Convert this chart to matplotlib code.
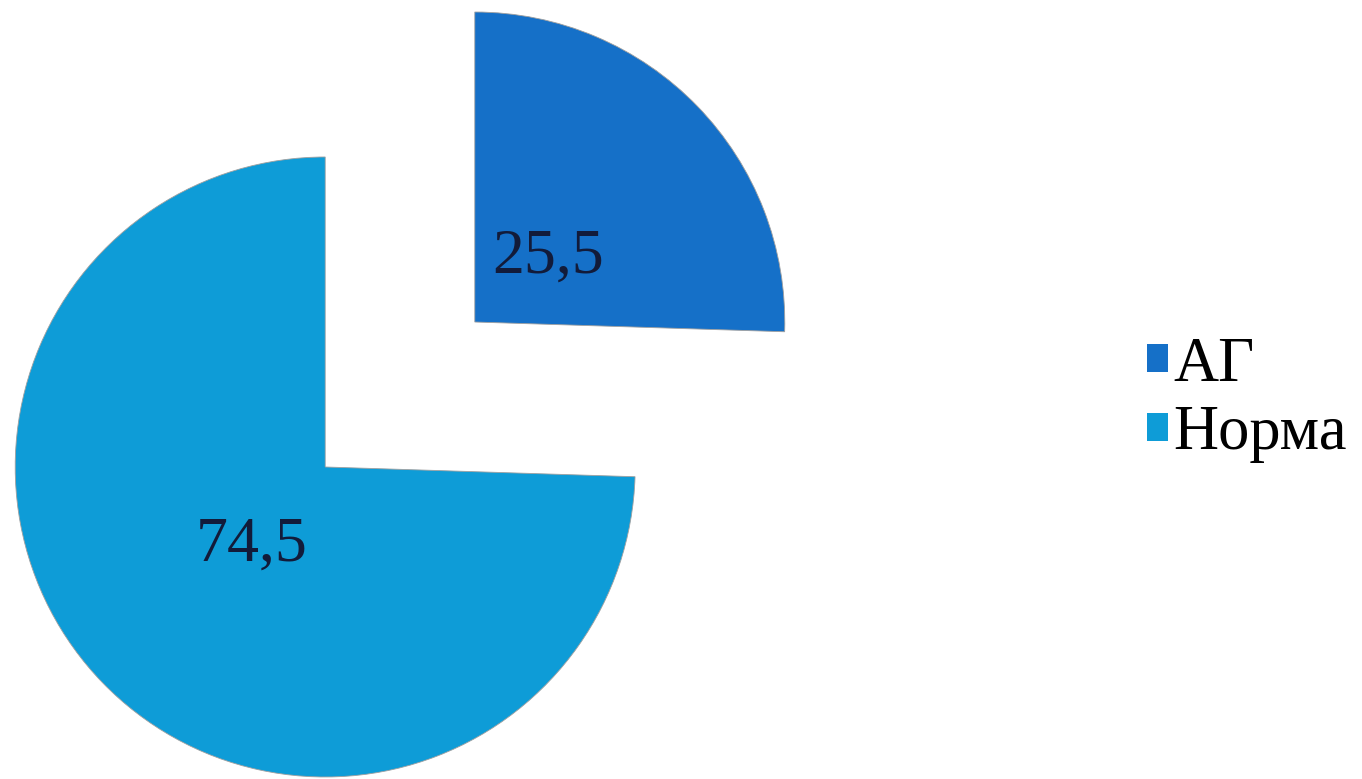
import matplotlib
matplotlib.use("Agg")
import matplotlib.pyplot as plt

categories = ["АГ", "Норма"]
values = [25.5, 74.5]
value_labels = ["25,5", "74,5"]
colors = ["#1570C8", "#0E9CD7"]

plt.rcParams['font.family'] = ['Liberation Serif', 'DejaVu Serif']

fig = plt.figure(figsize=(13.62, 7.79), dpi=100)
ax = fig.add_axes([0, 0, 1, 1])
R = 310.0
cx, cy = 400.0, 779 - 394.5

wedges, texts = ax.pie(values, startangle=90, counterclock=False,
                       colors=colors, explode=[0.336, 0.336], radius=1.0,
                       center=(0, 0), labels=value_labels, labeldistance=0.33,
                       frame=True,
                       wedgeprops=dict(edgecolor='#A0A0A0', linewidth=0.6),
                       textprops=dict(fontsize=46, color='#121B3A',
                                      ha='center', va='center_baseline'))
ax.set_xlim(-cx / R, (1362 - cx) / R)
ax.set_ylim(-cy / R, (779 - cy) / R)
ax.set_aspect('auto')
ax.axis('off')

leg = ax.legend(wedges, categories, loc='center left',
                bbox_to_anchor=(1147 / 1362, 1 - 400 / 779),
                frameon=False, fontsize=45, handlelength=0.33,
                handleheight=0.3, handletextpad=0.09, labelspacing=0.17,
                borderpad=0, borderaxespad=0)
for h in leg.legend_handles:
    h.set_edgecolor('none')

fig.savefig("out.png", dpi=100)
